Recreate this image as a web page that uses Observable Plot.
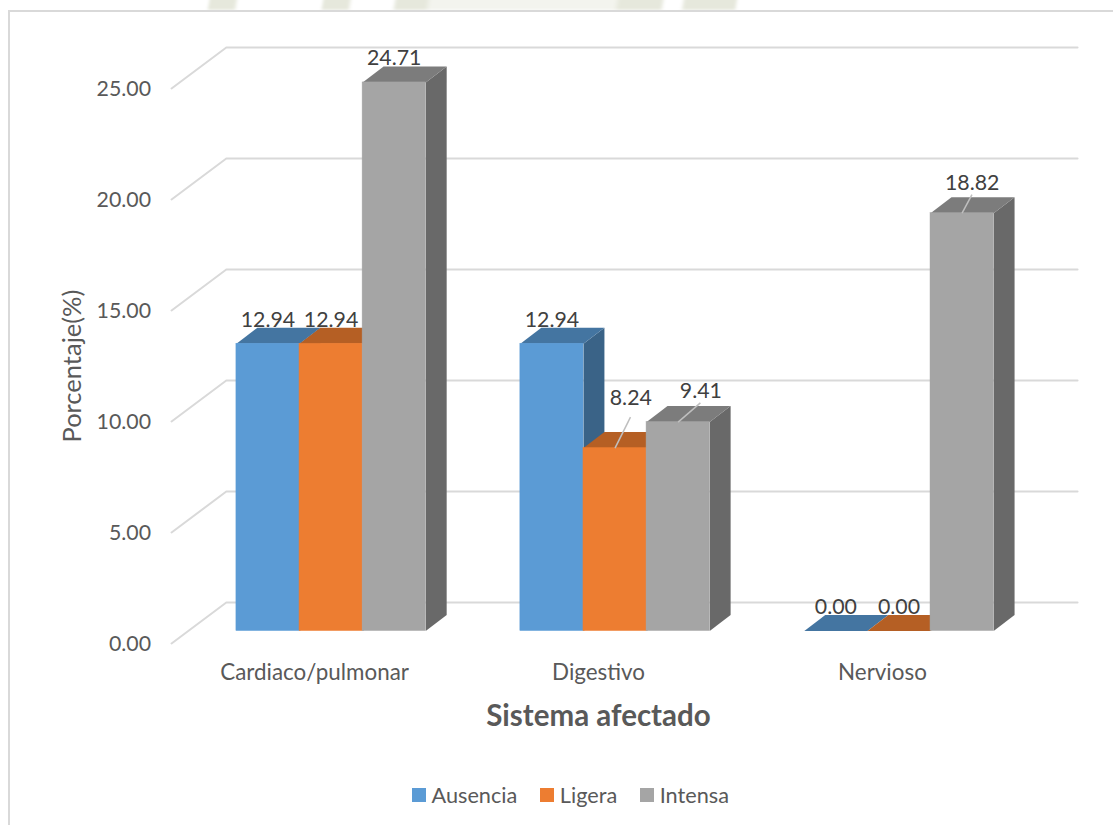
<!DOCTYPE html>
<html lang="es">
<head>
<meta charset="utf-8">
<script src="https://cdn.jsdelivr.net/npm/d3@7"></script>
<script src="https://cdn.jsdelivr.net/npm/@observablehq/plot@0.6"></script>
<style>
  html, body { margin: 0; padding: 0; background: #fff; }
  #chart { position: relative; width: 1113px; height: 825px; overflow: hidden; font-family: Lato, sans-serif; }
  /* Faint crest of the page background, showing above the chart frame */
  #crest { position: absolute; left: 0; top: -4px; width: 100%; height: 14px; filter: blur(1.5px);
    background: linear-gradient(100deg, #fff 206px, #e6e8dc 208px, #e6e8dc 232px, #fff 236px, #fff 318px, #e6e8dc 320px, #e6e8dc 344px, #fff 348px, #fff 388px, #e6e8dc 392px, #e6e8dc 420px, #f3f4ee 426px, #f3f4ee 606px, #e6e8dc 612px, #e6e8dc 652px, #fff 656px, #fff 672px, #e6e8dc 676px, #e6e8dc 725px, #fff 728px); }
  #frame { position: absolute; left: 8px; top: 10px; right: -4px; bottom: -4px; border-top: 2px solid #d9d9d9; border-left: 2px solid #d9d9d9; background: #fff; }
  #plot { position: absolute; left: 0; top: 0; }
  #legend { position: absolute; left: 412px; top: 775px; height: 40px; display: flex; align-items: center; font-size: 21.7px; color: #595959; }
  #legend .key { display: flex; align-items: center; margin-right: 23px; }
  #legend .swatch { width: 14px; height: 14px; margin-right: 5.5px; }
</style>
</head>
<body>
<div id="chart">
  <div id="crest"></div>
  <div id="frame"></div>
  <div id="plot"></div>
  <div id="legend"></div>
</div>
<script>
// Porcentajes por sistema afectado y grado de ansiedad
const sistemas = ["Cardiaco/pulmonar", "Digestivo", "Nervioso"];
const grados = ["Ausencia", "Ligera", "Intensa"];
const ausencia = [12.94, 12.94, 0.00];
const ligera = [12.94, 8.24, 0.00];
const intensa = [24.71, 9.41, 18.82];
const series = [ausencia, ligera, intensa];
const marcasY = [0, 5, 10, 15, 20, 25];

const colores = ["#5b9bd5", "#ed7d31", "#a5a5a5"];
const coloresTapa = ["#4475a1", "#b55f24", "#7c7c7c"];
const coloresLado = ["#3a6387", "#8f4c1e", "#696969"];

// Oblique projection, in axis units: one bar is 1 unit wide on x.
const huecoInicial = 0.75, pasoGrupo = 4.5;
const fondoBarra = {x: 0.332, y: 0.72};
const paredDelante = {x: -0.278, y: -0.563};
const paredFondo = {x: 0.59, y: 1.284};
const finPared = 14.08;

// Labels moved off their bars, each tied back with a leader.
const ajusteEtiqueta = {
  "1-1": {x: 0.25, y: 2.25, guia: true},
  "1-2": {x: 0.36, y: 1.4, guia: true},
  "2-2": {x: 0.16, y: 1.35, guia: true}
};

const barras = sistemas.flatMap((sistema, i) => grados.map((grado, j) => {
  const x1 = huecoInicial + pasoGrupo * i + j;
  return {sistema, grado, i, j, x1, x2: x1 + 1, valor: series[j][i], clave: `${i}-${j}`};
}));

// Side, top and front of each bar, painted left to right so nearer faces cover farther ones.
const caras = barras.flatMap((b) => {
  const d = fondoBarra;
  const lado = [[b.x2, 0], [b.x2 + d.x, d.y], [b.x2 + d.x, b.valor + d.y], [b.x2, b.valor]];
  const tapa = [[b.x1, b.valor], [b.x1 + d.x, b.valor + d.y], [b.x2 + d.x, b.valor + d.y], [b.x2, b.valor]];
  return [
    Plot.line(b.valor > 0 ? lado : [], {x: (p) => p[0], y: (p) => p[1], fill: coloresLado[b.j], stroke: "none", curve: "linear-closed"}),
    Plot.line(tapa, {x: (p) => p[0], y: (p) => p[1], fill: coloresTapa[b.j], stroke: "none", curve: "linear-closed"}),
    Plot.rect([b], {x1: "x1", x2: "x2", y1: 0, y2: "valor", fill: "grado", stroke: "grado", strokeWidth: 0.5})
  ];
});

const rejilla = marcasY.map((t) => [
  [paredDelante.x, t + paredDelante.y],
  [paredFondo.x, t + paredFondo.y],
  [finPared, t + paredFondo.y]
]);

const posEtiqueta = (b) => {
  const a = ajusteEtiqueta[b.clave];
  return a
    ? {x: (b.x1 + b.x2) / 2 + a.x, y: b.valor + a.y}
    : {x: (b.x1 + b.x2) / 2, y: b.valor + fondoBarra.y + 0.36};
};
const guias = barras.filter((b) => ajusteEtiqueta[b.clave]);

const pxX = (u) => 188.6 + 63.1 * u;
const pxY = (v) => 630.5 - 22.2 * v;
const dominioX = [-0.6, 14.3];
const dominioY = [-1, 27];

const plot = Plot.plot({
  width: 1113,
  height: 775,
  marginLeft: 151,
  marginRight: 68,
  marginTop: 77,
  marginBottom: 120,
  style: {fontFamily: "Lato, sans-serif", background: "none", overflow: "visible"},
  x: {domain: dominioX, range: dominioX.map(pxX), axis: null},
  y: {domain: dominioY, range: dominioY.map(pxY), axis: null},
  color: {domain: grados, range: colores},
  marks: [
    // Gridlines running across the floor edge and along the back wall
    ...rejilla.map((g) => Plot.line(g, {x: (p) => p[0], y: (p) => p[1], stroke: "#d9d9d9", strokeWidth: 2})),
    ...caras,
    // Leaders from each moved label back to its bar
    Plot.link(guias, {
      x1: (b) => (b.x1 + b.x2) / 2,
      y1: "valor",
      x2: (b) => (b.x1 + b.x2) / 2 + ajusteEtiqueta[b.clave].x * 0.98,
      y2: (b) => b.valor + ajusteEtiqueta[b.clave].y * 0.62,
      stroke: "#bfbfbf",
      strokeWidth: 1.5
    }),
    Plot.text(barras, {
      x: (b) => posEtiqueta(b).x,
      y: (b) => posEtiqueta(b).y,
      text: (b) => b.valor.toFixed(2),
      fill: "#404040",
      fontSize: 21.3
    }),
    Plot.axisY({anchor: "left", ticks: marcasY, tickFormat: (d) => d.toFixed(2), tickSize: 0, tickPadding: 0.5, dy: 13, fill: "#595959", fontSize: 21.3, label: null}),
    Plot.axisX({
      anchor: "bottom",
      ticks: sistemas.map((_, i) => huecoInicial + pasoGrupo * i + 1.5),
      tickFormat: (d) => sistemas[Math.round((d - huecoInicial - 1.5) / pasoGrupo)],
      tickSize: 0,
      tickPadding: 9,
      dx: -16.5,
      fill: "#595959",
      fontSize: 22.4,
      label: null
    }),
    Plot.text(["Sistema afectado"], {frameAnchor: "bottom", dy: 70, fontSize: 29.5, fontWeight: "bold", fill: "#595959"}),
    Plot.text(["Porcentaje(%)"], {frameAnchor: "left", rotate: -90, dx: -79, dy: 76, fontSize: 25.5, fill: "#595959"})
  ]
});
document.getElementById("plot").append(plot);

// Colour key below the chart
const escala = plot.scale("color");
const leyenda = d3.select("#legend");
grados.forEach((g, i) => {
  const k = leyenda.append("div").attr("class", "key");
  k.append("div").attr("class", "swatch").style("background", escala.range[i]);
  k.append("span").text(g);
});
</script>
</body>
</html>
